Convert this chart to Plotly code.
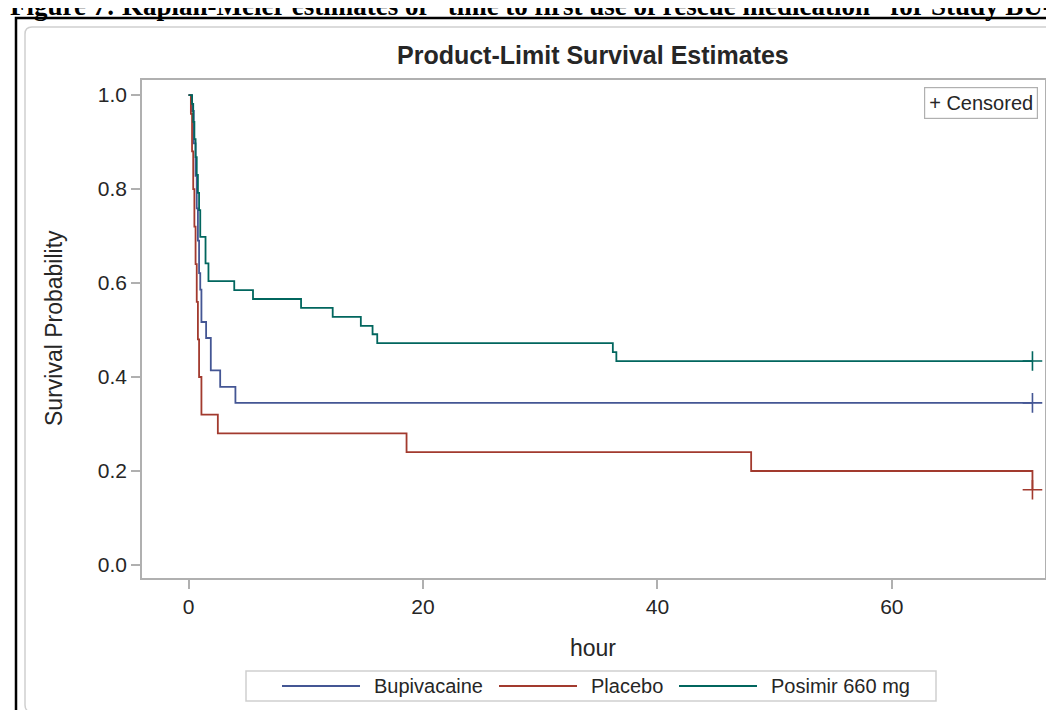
import plotly.graph_objects as go

# Kaplan-Meier step data (hours, survival probability)
bupi_time = [0, 0.3, 0.45, 0.6, 0.7, 0.8, 0.9, 1.0, 1.1, 1.5, 1.9, 2.7, 4.0, 72]
bupi_surv = [1.0, 0.966, 0.897, 0.828, 0.759, 0.690, 0.621, 0.586, 0.517, 0.483, 0.414, 0.379, 0.345, 0.345]

plac_time = [0, 0.2, 0.3, 0.4, 0.5, 0.6, 0.7, 0.8, 0.9, 1.1, 2.5, 18.6, 48.0, 72]
plac_surv = [1.0, 0.96, 0.88, 0.80, 0.72, 0.64, 0.56, 0.48, 0.40, 0.32, 0.28, 0.24, 0.20, 0.16]

posi_time = [0, 0.3, 0.4, 0.5, 0.6, 0.7, 0.8, 0.9, 1.0, 1.45, 1.7, 3.9, 5.5, 9.6, 12.3,
             14.7, 15.7, 16.1, 36.2, 36.5, 72]
posi_surv = [1.0, 0.981, 0.943, 0.906, 0.868, 0.830, 0.792, 0.755, 0.698, 0.642, 0.604,
             0.585, 0.566, 0.547, 0.528, 0.509, 0.491, 0.472, 0.453, 0.434, 0.434]

cens_time = [72, 72, 72]
cens_surv = [0.345, 0.16, 0.434]

groups = ["Bupivacaine", "Placebo", "Posimir 660 mg"]
colors = ["#445694", "#A23A2E", "#01665E"]

x_ticks = [0, 20, 40, 60]
y_ticks = [0.0, 0.2, 0.4, 0.6, 0.8, 1.0]

FONT = "Liberation Sans"
TXT = "#262626"
W, H = 1054, 710
PL, PR, PT, PB = 134, 1037, 72, 570


def px(x):
    return (x - PL) / (PR - PL)


def py(y):
    return (PB - y) / (PB - PT)


fig = go.Figure()
for name, t, s, c in zip(groups, [bupi_time, plac_time, posi_time],
                         [bupi_surv, plac_surv, posi_surv], colors):
    fig.add_trace(go.Scatter(x=t, y=s, mode="lines", name=name, line_shape="hv",
                             line=dict(color=c, width=1.8), showlegend=False))

fig.add_trace(go.Scatter(
    x=cens_time, y=cens_surv, mode="markers", showlegend=False,
    marker=dict(symbol="cross-thin", size=14, line=dict(width=1.6, color=colors)),
))

axis_style = dict(showline=True, linecolor="#b0b0b0", linewidth=1.5, mirror=True,
                  ticks="outside", ticklen=9, tickcolor="#b0b0b0", tickwidth=1.5,
                  showgrid=False, zeroline=False, automargin=False,
                  tickfont=dict(family=FONT, size=21, color=TXT))

fig.update_xaxes(range=[-3.97, 73.07], tickvals=x_ticks, **axis_style)
fig.update_yaxes(range=[-0.0277, 1.032], tickvals=y_ticks, tickformat=".1f", **axis_style)


def rounded_rect(x0, y0, x1, y1, r):
    # path in pixel coords converted to paper coords
    pts = [
        f"M {px(x0 + r)},{py(y0)}", f"L {px(x1 - r)},{py(y0)}",
        f"Q {px(x1)},{py(y0)} {px(x1)},{py(y0 + r)}", f"L {px(x1)},{py(y1 - r)}",
        f"Q {px(x1)},{py(y1)} {px(x1 - r)},{py(y1)}", f"L {px(x0 + r)},{py(y1)}",
        f"Q {px(x0)},{py(y1)} {px(x0)},{py(y1 - r)}", f"L {px(x0)},{py(y0 + r)}",
        f"Q {px(x0)},{py(y0)} {px(x0 + r)},{py(y0)}", "Z",
    ]
    return " ".join(pts)


shapes = [
    # outer black page border
    dict(type="rect", xref="paper", yref="paper", x0=px(8), x1=px(1064), y0=py(10), y1=py(722),
         line=dict(color="black", width=2.5), layer="below"),
    # inner light frame
    dict(type="path", xref="paper", yref="paper", path=rounded_rect(17, 19, 1051, 704, 7),
         line=dict(color="#cfcfcf", width=1.5), layer="below"),
    # bottom legend box
    dict(type="rect", xref="paper", yref="paper", x0=px(238), x1=px(928), y0=py(663), y1=py(693),
         line=dict(color="#cfcfcf", width=1.5)),
]

annotations = [
    dict(text="<b>Figure 7: Kaplan-Meier estimates of \u201ctime to first use of rescue medication\u201d "
              "for Study BU-002-IM</b>",
         xref="paper", yref="paper", x=px(0), y=py(15), xanchor="left", yanchor="bottom",
         showarrow=False, font=dict(family="Liberation Serif", size=27, color="black")),
    dict(text="<b>Product-Limit Survival Estimates</b>", xref="paper", yref="paper",
         x=px(585), y=py(47), xanchor="center", yanchor="middle", showarrow=False,
         font=dict(family=FONT, size=25, color=TXT)),
    dict(text="+ Censored", xref="paper", yref="paper", x=px(1030), y=py(79),
         xanchor="right", yanchor="top", showarrow=False, bordercolor="#b0b0b0",
         borderwidth=1.2, borderpad=4, bgcolor="white",
         font=dict(family=FONT, size=20, color=TXT)),
    dict(text="Survival Probability", xref="paper", yref="paper", x=px(46), y=py(320),
         xanchor="center", yanchor="middle", textangle=-90, showarrow=False,
         font=dict(family=FONT, size=23, color=TXT)),
    dict(text="hour", xref="paper", yref="paper", x=px(585), y=py(640),
         xanchor="center", yanchor="middle", showarrow=False,
         font=dict(family=FONT, size=23, color=TXT)),
]

# bottom legend: line sample + label for each group
leg_x = [274, 491, 671]
for name, c, lx in zip(groups, colors, leg_x):
    shapes.append(dict(type="line", xref="paper", yref="paper", x0=px(lx), x1=px(lx + 78),
                       y0=py(678), y1=py(678), line=dict(color=c, width=1.8)))
    annotations.append(dict(text=name, xref="paper", yref="paper", x=px(lx + 90), y=py(678),
                            xanchor="left", yanchor="middle", showarrow=False,
                            font=dict(family=FONT, size=20, color=TXT)))

fig.update_layout(
    width=W, height=H,
    margin=dict(l=PL, r=W - PR, t=PT, b=H - PB),
    plot_bgcolor="white", paper_bgcolor="white",
    shapes=shapes, annotations=annotations,
)

fig.write_html("out.html")
